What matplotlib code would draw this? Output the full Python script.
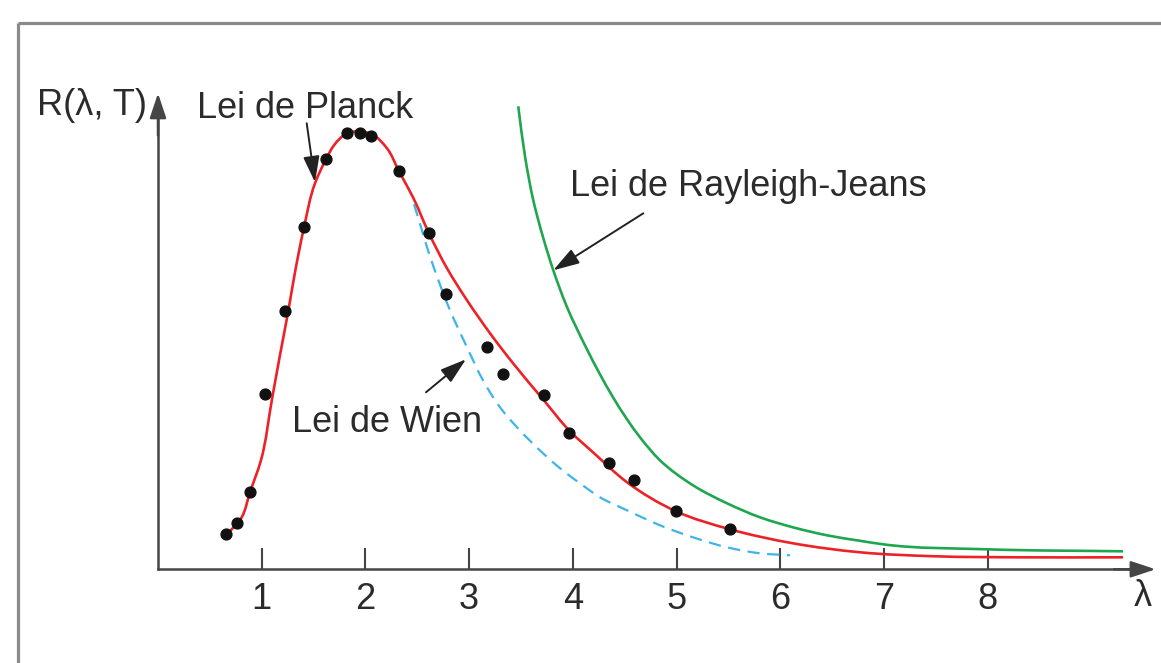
import matplotlib
matplotlib.use("Agg")
import matplotlib.pyplot as plt
import numpy as np
from matplotlib.lines import Line2D
from matplotlib.path import Path
from matplotlib.patches import PathPatch

plt.rcParams['font.family'] = ['Liberation Sans', 'DejaVu Sans']

# --- data (arbitrary radiance units) ---
dots_x = [0.656, 0.765, 0.887, 1.032, 1.222, 1.411, 1.620, 1.825, 1.948, 2.051,
          2.321, 2.616, 2.777, 3.170, 3.324, 3.722, 3.965, 4.352, 4.590, 4.992, 5.516]
dots_y = [0.35, 0.46, 0.77, 1.75, 2.58, 3.42, 4.10, 4.36, 4.36, 4.33,
          3.98, 3.36, 2.75, 2.22, 1.95, 1.74, 1.36, 1.06, 0.89, 0.58, 0.40]

planck_x = [0.636, 0.807, 0.887, 0.990, 1.099, 1.176, 1.254, 1.321, 1.408,
            1.514, 1.620, 1.697, 1.823, 1.948, 2.064, 2.208, 2.324, 2.459, 2.613,
            2.787, 2.980, 3.202, 3.424, 3.713, 3.973, 4.195, 4.523, 4.995, 5.516,
            6.123, 6.770, 7.500, 8.300, 9.306]
planck_y = [0.32, 0.52, 0.77, 1.08, 1.70, 2.14, 2.57, 2.97, 3.42,
            3.86, 4.10, 4.24, 4.36, 4.38, 4.35, 4.21, 3.98, 3.72, 3.36,
            3.01, 2.69, 2.36, 2.06, 1.70, 1.38, 1.17, 0.87, 0.58, 0.40,
            0.26, 0.17, 0.13, 0.12, 0.12]

rj_x = [3.474, 3.539, 3.619, 3.716, 3.812, 3.941, 4.127, 4.262, 4.388, 4.523,
        4.648, 4.841, 5.159, 5.487, 5.805, 6.123, 6.451, 6.770, 6.991, 7.994, 9.306]
rj_y = [4.63, 4.13, 3.69, 3.31, 2.99, 2.63, 2.22, 1.95, 1.72, 1.50,
        1.32, 1.09, 0.84, 0.66, 0.52, 0.42, 0.34, 0.285, 0.25, 0.20, 0.18]

wien_x = [2.469, 2.652, 2.816, 2.980, 3.134, 3.298, 3.462, 3.713, 3.877, 4.069,
          4.262, 4.523, 4.841, 5.159, 5.487, 5.805, 6.094]
wien_y = [3.65, 3.04, 2.59, 2.22, 1.89, 1.62, 1.42, 1.16, 1.01, 0.86,
          0.72, 0.59, 0.44, 0.32, 0.22, 0.16, 0.14]

xticks = [1, 2, 3, 4, 5, 6, 7, 8]
xtick_labels = ['1', '2', '3', '4', '5', '6', '7', '8']

# pixel scale of one data unit (used only to measure chord lengths for smoothing)
SX, SY = 103.7, 100.0


def smooth_path(xs, ys):
    """Cubic Bezier path through the sampled points, chord-length tangents."""
    p = np.column_stack([xs, ys]).astype(float)
    q = p * [SX, SY]
    n = len(p)
    t = np.concatenate([[0], np.cumsum(np.hypot(*np.diff(q, axis=0).T))])
    m = np.zeros_like(p)
    for i in range(n):
        if i == 0:
            m[i] = (p[1] - p[0]) / (t[1] - t[0])
        elif i == n - 1:
            m[i] = (p[-1] - p[-2]) / (t[-1] - t[-2])
        else:
            h0, h1 = t[i] - t[i - 1], t[i + 1] - t[i]
            d0 = (p[i] - p[i - 1]) / h0
            d1 = (p[i + 1] - p[i]) / h1
            m[i] = (d0 * h1 + d1 * h0) / (h0 + h1)
    verts = [p[0]]
    codes = [Path.MOVETO]
    for i in range(n - 1):
        h = t[i + 1] - t[i]
        verts += [p[i] + m[i] * h / 3, p[i + 1] - m[i + 1] * h / 3, p[i + 1]]
        codes += [Path.CURVE4] * 3
    return Path(verts, codes)


# --- figure ---
W, H = 1161, 663
fig = plt.figure(figsize=(W / 100, H / 100), dpi=100)
ax = fig.add_axes([0, 0, 1, 1])
ax.set_xlim(-158 / SX, (W - 158) / SX)
ax.set_ylim(-(H - 569.3) / SY, 569.3 / SY)

axis_col = '#454545'
txt_col = '#2b2b2b'
FS = 26

# frame (top and left)
frame_col = '#8a8a8a'
fig.add_artist(Line2D([18 / W, 1], [1 - 22.5 / H, 1 - 22.5 / H], transform=fig.transFigure,
                      color=frame_col, lw=2.3, solid_capstyle='butt'))
fig.add_artist(Line2D([18 / W, 18 / W], [0, 1 - 22.5 / H], transform=fig.transFigure,
                      color=frame_col, lw=2.3, solid_capstyle='butt'))

# axes as spines at the origin
for s in ['top', 'right']:
    ax.spines[s].set_visible(False)
ax.spines['left'].set_position(('data', 0))
ax.spines['bottom'].set_position(('data', 0))
x_tip, y_tip = 9.52, 4.74
ax.spines['bottom'].set_bounds(0, x_tip - 0.05)
ax.spines['left'].set_bounds(0, y_tip - 0.05)
for s in ['left', 'bottom']:
    ax.spines[s].set_color(axis_col)
    ax.spines[s].set_linewidth(1.8)
ax.set_yticks([])
ax.set_xticks(xticks)
ax.set_xticklabels(xtick_labels, fontsize=FS, color=txt_col)
ax.tick_params(axis='x', direction='in', length=15, width=1.5, color=axis_col, pad=9)

arrow_kw = dict(arrowstyle='-|>,head_length=0.6,head_width=0.2', color=axis_col,
                lw=1.8, mutation_scale=25, shrinkA=0, shrinkB=0)
ax.annotate('', xy=(x_tip + 0.1, 0), xytext=(x_tip - 0.3, 0), arrowprops=arrow_kw)
ax.annotate('', xy=(0, y_tip + 0.02), xytext=(0, y_tip - 0.4), arrowprops=arrow_kw)

# curves
ax.add_patch(PathPatch(smooth_path(rj_x, rj_y), facecolor='none', edgecolor='#1fa64f',
                       lw=1.9, zorder=3))
ax.add_patch(PathPatch(smooth_path(wien_x, wien_y), facecolor='none', edgecolor='#3db5e8',
                       lw=1.6, linestyle=(0, (5.5, 3.4)), zorder=3))
ax.add_patch(PathPatch(smooth_path(planck_x, planck_y), facecolor='none', edgecolor='#ec2227',
                       lw=1.9, zorder=4))
ax.plot(dots_x, dots_y, 'o', color='#111111', markersize=7.8, zorder=5)

# labels
ax.text(-1.164, 4.54, 'R(λ, T)', fontsize=FS, color=txt_col, ha='left', va='baseline')
ax.text(9.50, -0.37, 'λ', fontsize=FS, color=txt_col, ha='center', va='baseline')
ax.text(0.376, 4.51, 'Lei de Planck', fontsize=FS, color=txt_col, ha='left', va='baseline')
ax.text(3.97, 3.73, 'Lei de Rayleigh-Jeans', fontsize=FS, color=txt_col, ha='left', va='baseline')
ax.text(1.289, 1.376, 'Lei de Wien', fontsize=FS, color=txt_col, ha='left', va='baseline')

ann_kw = dict(arrowstyle='-|>,head_length=0.8,head_width=0.25', color='#222222',
              lw=1.4, mutation_scale=20, shrinkA=0, shrinkB=0)
ax.annotate('', xy=(1.514, 3.87), xytext=(1.434, 4.46), arrowprops=ann_kw)
ax.annotate('', xy=(3.812, 2.99), xytext=(4.680, 3.56), arrowprops=ann_kw)
ax.annotate('', xy=(2.970, 2.10), xytext=(2.584, 1.77), arrowprops=ann_kw)

fig.savefig('out.png', dpi=100)
